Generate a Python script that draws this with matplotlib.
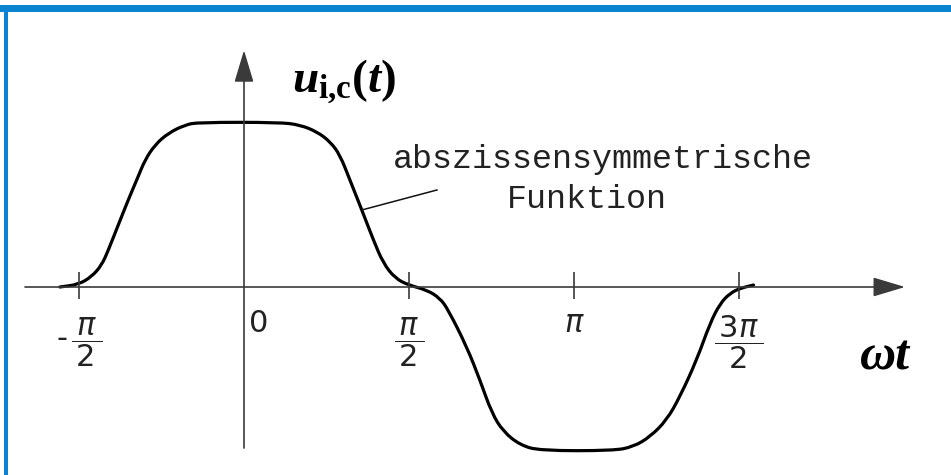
import numpy as np
import matplotlib
matplotlib.use("Agg")
import matplotlib.pyplot as plt
from matplotlib.patches import Rectangle, PathPatch
from matplotlib.path import Path

# --- data ---------------------------------------------------------------
# phase angle omega*t in multiples of pi, and normalised voltage u_i,c
wt_pi = [-0.558, -0.502, -0.462, -0.431, -0.411, -0.381, -0.351, -0.321,
         -0.300, -0.270, -0.230, -0.179, -0.139, 0.109, 0.170, 0.221,
         0.261, 0.291, 0.321, 0.357, 0.392, 0.422, 0.458, 0.498,
         0.554, 0.594, 0.619, 0.675, 0.715, 0.751, 0.786, 0.837,
         0.897, 1.119, 1.180, 1.231, 1.281, 1.321, 1.372, 1.412,
         1.443, 1.473, 1.503, 1.544]
u_ic = [0.000, 0.015, 0.062, 0.133, 0.224, 0.376, 0.527, 0.668,
        0.770, 0.861, 0.932, 0.982, 0.998, 0.998, 0.982, 0.941,
        0.881, 0.800, 0.648, 0.467, 0.285, 0.144, 0.053, 0.012,
        -0.018, -0.068, -0.139, -0.362, -0.564, -0.765, -0.877, -0.958,
        -0.992, -0.992, -0.968, -0.907, -0.806, -0.665, -0.442, -0.220,
        -0.099, -0.038, -0.008, 0.012]

tick_pos_pi = [-0.5, 0.5, 1.0, 1.5]
tick_labels = [r"-$\,\dfrac{\,\pi\,}{2}$", r"$\dfrac{\,\pi\,}{2}$", r"$\pi$",
               r"$\dfrac{\,3\pi\,}{2}$"]

annotation_lines = ["abszissensymmetrische", "Funktion"]
y_label = r"$u_{\mathrm{i{,}c}}(t)$"
x_label = "\u03c9t"

# --- figure -------------------------------------------------------------
plt.rcParams["mathtext.fontset"] = "custom"
plt.rcParams["mathtext.it"] = "Liberation Serif:italic:bold"
plt.rcParams["mathtext.rm"] = "Liberation Serif:bold"
plt.rcParams["mathtext.bf"] = "Liberation Serif:bold"

W, H = 951, 475
fig = plt.figure(figsize=(W / 100, H / 100), dpi=100)
fig.patch.set_facecolor("white")

# blue frame (top and left edges)
blue = "#0A84D0"
fig.add_artist(Rectangle((0.0, 1 - 11.7 / H), 1.0, 6.7 / H,
                         transform=fig.transFigure, color=blue, lw=0))
fig.add_artist(Rectangle((4 / W, 0.0), 3.5 / W, 1 - 5 / H,
                         transform=fig.transFigure, color=blue, lw=0))

ax = fig.add_axes([0, 0, 1, 1])
half = np.pi / 2
ax.set_xlim(-244 / 165 * half, (W - 244) / 165 * half)
ax.set_ylim((287 - H) / 165, 287 / 165)
ax.axis("off")

axis_color = "#3a3a3a"
arrow_kw = dict(arrowstyle="-|>,head_length=1.0,head_width=0.3",
                mutation_scale=20, color=axis_color, lw=1.2,
                shrinkA=0, shrinkB=0)

# abscissa and ordinate with arrow heads
ax.annotate("", xy=(6.293, 0), xytext=(-2.085, 0), arrowprops=arrow_kw,
            annotation_clip=False)
ax.annotate("", xy=(0, 1.435), xytext=(0, -0.976), arrowprops=arrow_kw,
            annotation_clip=False)

# tick marks and labels
xt = np.array(tick_pos_pi) * np.pi
ax.vlines(xt, -0.073, 0.088, color=axis_color, lw=1.2)
for x, lab in zip(xt, tick_labels):
    if "frac" in lab:
        ax.text(x, -0.333, lab, ha="center", va="center", fontsize=22,
                math_fontfamily="dejavusans", color="#222222",
                family="DejaVu Sans")
    else:
        ax.text(x, -0.273, lab, ha="center", va="baseline", fontsize=22,
                math_fontfamily="dejavusans", color="#222222")
ax.text(0.048, -0.273, "0", ha="left", va="baseline", fontsize=22,
        family="DejaVu Sans", color="#222222")

# the waveform, drawn as a smooth quadratic spline through the samples
pts = np.column_stack([np.array(wt_pi) * np.pi, u_ic])
mids = (pts[:-1] + pts[1:]) / 2
verts = [pts[0], mids[0]]
codes = [Path.MOVETO, Path.LINETO]
for i in range(1, len(pts) - 1):
    verts += [pts[i], mids[i]]
    codes += [Path.CURVE3, Path.CURVE3]
verts.append(pts[-1])
codes.append(Path.LINETO)
ax.add_patch(PathPatch(Path(verts, codes), fill=False, ec="black", lw=2.3,
                       capstyle="round", joinstyle="round"))

# annotation with leader line
ax.plot([1.123, 1.837], [0.467, 0.588], color="#111111", lw=1.1)
ax.text(1.4185, 0.721, annotation_lines[0], ha="left", va="baseline",
        family="Liberation Mono", fontsize=24, color="#222222")
ax.text(2.504, 0.479, annotation_lines[1], ha="left", va="baseline",
        family="Liberation Mono", fontsize=24, color="#222222")

# axis names
ax.text(0.457, 1.176, y_label, ha="left", va="baseline", fontsize=34,
        math_fontfamily="custom", color="black")
ax.text(6.102, -0.503, x_label, ha="center", va="baseline", fontsize=36,
        family="Liberation Serif", style="italic", weight="bold",
        color="black")

fig.savefig("out.png", dpi=100, facecolor="white")
